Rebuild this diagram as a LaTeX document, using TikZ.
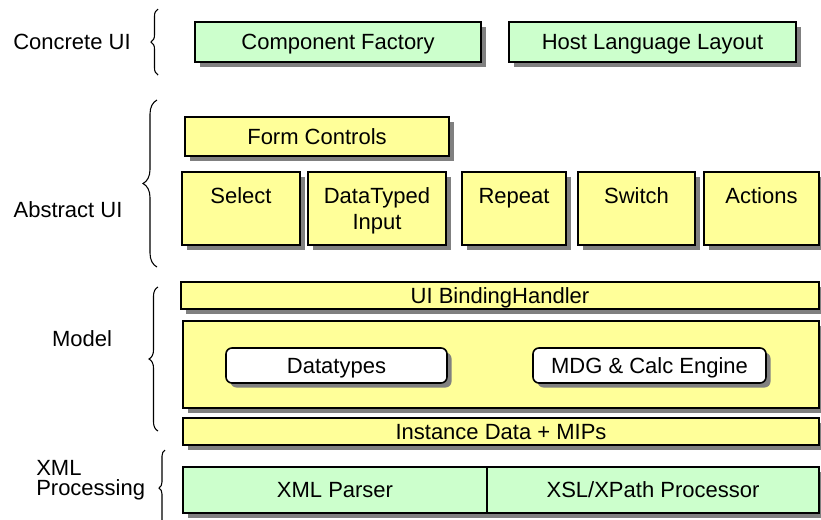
\documentclass[tikz,border=0pt]{standalone}
\usepackage{fontspec}
\setmainfont{Liberation Sans}
\usepackage{tikz}
\usetikzlibrary{shadows,decorations.pathreplacing}
\definecolor{LayerGreen}{RGB}{204,255,204}
\definecolor{LayerYellow}{RGB}{255,255,153}
\definecolor{LayerShadow}{RGB}{128,128,128}
\newlength\pxlen
\setlength\pxlen{0.75pt}

\begin{document}
\begin{tikzpicture}[x=1\pxlen,y=-1\pxlen,every node/.style={font=\fontsize{16.5}{19.5}\selectfont,text height=14pt,text depth=2.2pt},twolines/.style={text height=,text depth=0pt},box/.style n args={3}{draw=black,line width=1.2pt,fill=#1,minimum width=#2\pxlen,minimum height=#3\pxlen,inner sep=0pt,align=center,drop shadow={shadow xshift=4.5\pxlen,shadow yshift=-4.5\pxlen,fill=LayerShadow,opacity=1}},pill/.style n args={2}{box={white}{#1}{#2},rounded corners=6\pxlen},layer/.style={decorate,decoration={brace,amplitude=#1\pxlen},line width=0.8pt}]
\useasboundingbox (0,0) rectangle (821,519);
% layer names and braces
\node (concrete) at (72,42) {Concrete UI};
\node (abstract) at (68,210) {Abstract UI};
\node (model) at (82,339) {Model};
\node[twolines,anchor=west,inner sep=0pt,align=left,font=\fontsize{16.5}{15}\selectfont] (xmlproc) at (36,478) {XML\\Processing};
\draw[layer=7] (158,75) -- (158,9);
\draw[layer=14] (157,267) -- (157,100);
\draw[layer=9] (158,431) -- (158,287);
\draw[layer=6] (165,526) -- (165,450);
% concrete UI
\node[box={LayerGreen}{286}{40}] (factory) at (338,42) {Component Factory};
\node[box={LayerGreen}{287}{40}] (hostlayout) at (652.5,42) {Host Language Layout};
% abstract UI
\node[box={LayerYellow}{264}{39}] (formctl) at (317,136.5) {Form Controls};
\foreach \n/\x/\w/\1 in %
{select/241/118/{Select\\\strut},typed/377/138/{DataTyped\\Input},repeat/514/104/{Repeat\\\strut},switch/636.5/117/{Switch\\\strut},actions/761.5/115/{Actions\\\strut}} {
   \node[box={LayerYellow}{\w}{73},twolines] (\n) at (\x,208.5) {\1};
}
% model
\node[box={LayerYellow}{638}{27}] (binding) at (500,295.5) {UI BindingHandler};
\node[box={LayerYellow}{636}{87}] (modelbox) at (501,364.5) {};
\node[pill={221}{35}] (datatypes) at (336.5,365.5) {Datatypes};
\node[pill={233}{35}] (calc) at (649.5,365.5) {MDG \& Calc Engine};
\node[box={LayerYellow}{636}{27}] (instance) at (501,431.5) {Instance Data + MIPs};
% XML processing
\node[box={LayerGreen}{304}{46}] (parser) at (335,490) {XML Parser};
\node[box={LayerGreen}{332}{46}] (xpath) at (653,490) {XSL/XPath Processor};
\end{tikzpicture}
\end{document}
